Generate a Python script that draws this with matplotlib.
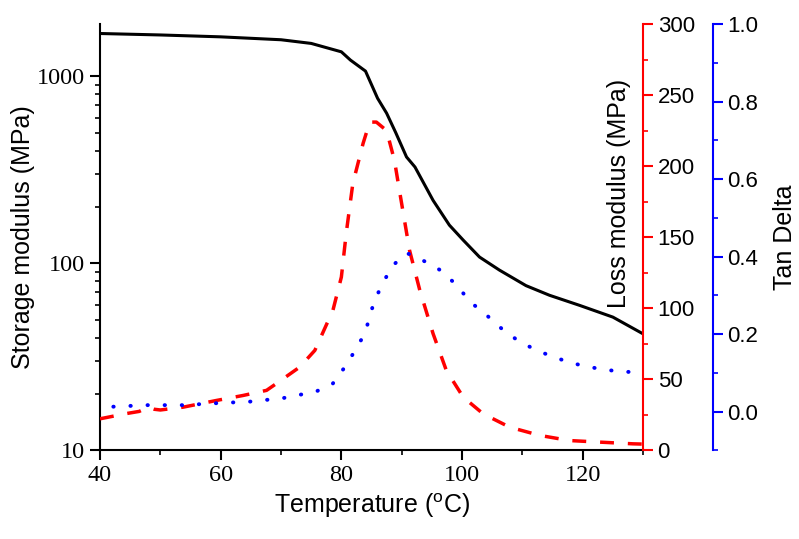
import matplotlib
matplotlib.use("Agg")
import matplotlib.pyplot as plt
from matplotlib.ticker import MultipleLocator, LogLocator, NullFormatter, FixedLocator

# storage modulus (MPa, log scale)
t_storage = [40, 50, 60, 70, 75, 80, 81.5, 84, 86, 87.5, 89, 90.8, 92.2, 95.2,
             97.9, 100.2, 102.9, 106.2, 110.6, 114.5, 119.5, 125, 130]
storage = [1690, 1660, 1622, 1565, 1496, 1349, 1219, 1064, 762, 634, 500, 370, 327,
           217, 160, 133, 108, 92, 76, 67.5, 59.6, 51.6, 42]

# loss modulus (MPa)
t_loss = [40, 44.4, 46.5, 48, 49, 50, 53.8, 59.3, 63.7, 67.6, 69.2, 73.1, 75.6,
          78.6, 80, 80.8, 81.9, 83.6, 84.7, 85.8, 87.5, 88.8, 89.7, 91.3, 93, 95.2,
          97.4, 100.2, 103.5, 107.9, 112.9, 117.8, 122.8, 128.3, 130]
loss = [22.3, 26, 27.5, 30.5, 29, 28.5, 30.5, 35.2, 38.7, 42.3, 47, 58.7, 70.4,
        98.6, 122, 152.7, 187.8, 216, 231, 231, 225, 204, 181, 140.8, 112.7, 82.2,
        56.3, 37.5, 25.8, 16.4, 10.6, 7.0, 5.9, 4.7, 4.5]

# tan delta
t_tan = [42.2, 47.7, 53.8, 59.3, 64.8, 70.3, 75.8, 78.6, 80.8, 82.5, 83.9, 84.7,
         85.5, 86.9, 88.3, 90.8, 92.4, 96.3, 99.1, 101.3, 104, 106.8, 109.5, 112.3,
         115, 118.1, 120.8, 123.9, 126.6, 130]
tan_delta = [0.013, 0.017, 0.017, 0.022, 0.026, 0.035, 0.052, 0.073, 0.12, 0.164,
             0.202, 0.245, 0.288, 0.331, 0.374, 0.409, 0.400, 0.366, 0.327, 0.284,
             0.25, 0.211, 0.181, 0.159, 0.142, 0.126, 0.116, 0.108, 0.103, 0.102]

SERIF = "Liberation Serif"
SANS = "Liberation Sans"

fig = plt.figure(figsize=(7.99, 5.39), dpi=100)
ax = fig.add_axes([0.1252, 0.1642, 0.6796, 0.7913])
ax2 = ax.twinx()
ax3 = ax.twinx()

ax.plot(t_storage, storage, color="black", lw=2.2, zorder=5)
ax2.plot(t_loss, loss, color="red", lw=2.5, linestyle=(0, (4, 4)))
ax3.plot(t_tan, tan_delta, color="blue", lw=2.8, linestyle=(0, (0.1, 4.3)),
         dash_capstyle="round")

ax.set_yscale("log")
ax.set_xlim(40, 130)
ax.set_ylim(10, 1900)
ax2.set_ylim(0, 300)
ax3.set_ylim(-0.1, 1.0)

ax.xaxis.set_major_locator(MultipleLocator(20))
ax.xaxis.set_minor_locator(MultipleLocator(10))
ax.yaxis.set_major_locator(FixedLocator([10, 100, 1000]))
ax.yaxis.set_minor_locator(LogLocator(base=10, subs=range(2, 10)))
ax.yaxis.set_minor_formatter(NullFormatter())
ax.set_yticklabels(["10", "100", "1000"])

ax2.yaxis.set_major_locator(MultipleLocator(50))
ax2.yaxis.set_minor_locator(MultipleLocator(25))
ax3.yaxis.set_major_locator(FixedLocator([0.0, 0.2, 0.4, 0.6, 0.8, 1.0]))
ax3.yaxis.set_minor_locator(FixedLocator([-0.1, 0.1, 0.3, 0.5, 0.7, 0.9]))
ax3.set_yticklabels(["0.0", "0.2", "0.4", "0.6", "0.8", "1.0"])

for a in (ax, ax2, ax3):
    for s in a.spines.values():
        s.set_linewidth(1.5)
ax.spines["top"].set_visible(False)
ax.spines["right"].set_visible(False)
ax2.spines["top"].set_visible(False)
ax2.spines["left"].set_visible(False)
ax2.spines["bottom"].set_visible(False)
ax2.spines["right"].set_color("red")
ax3.spines["top"].set_visible(False)
ax3.spines["left"].set_visible(False)
ax3.spines["bottom"].set_visible(False)
ax3.spines["right"].set_color("blue")
ax3.spines["right"].set_position(("outward", 50.4))

ax.tick_params(which="major", length=7, width=1.5, labelsize=17.5, direction="out")
ax.tick_params(which="minor", length=3.5, width=1.2, direction="out")
ax2.tick_params(which="major", length=7, width=1.5, color="red", labelsize=16)
ax2.tick_params(which="minor", length=3.5, width=1.2, color="red")
ax3.tick_params(which="major", length=7, width=1.5, color="blue", labelsize=16)
ax3.tick_params(which="minor", length=3.5, width=1.2, color="blue")

for lab in ax.get_xticklabels() + ax.get_yticklabels():
    lab.set_fontfamily(SERIF)
for lab in ax2.get_yticklabels() + ax3.get_yticklabels():
    lab.set_fontfamily(SANS)

ax.set_xlabel("Temperature ($^{\\mathregular{o}}$C)", fontfamily=SANS, fontsize=18, labelpad=4)
ax.set_ylabel("Storage modulus (MPa)", fontfamily=SANS, fontsize=18, labelpad=2)
ax2.set_ylabel("Loss modulus (MPa)", fontfamily=SANS, fontsize=18)
ax2.yaxis.set_label_coords(0.934, 0.603)
ax3.set_ylabel("Tan Delta", fontfamily=SANS, fontsize=18, labelpad=10)

fig.savefig("out.png", dpi=100)
